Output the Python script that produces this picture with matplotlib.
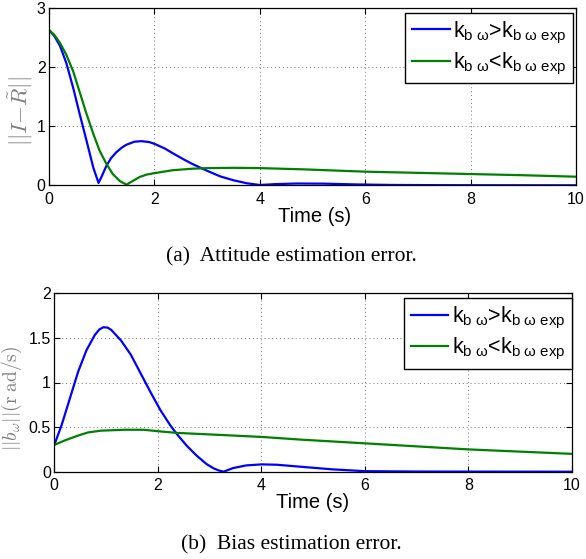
import matplotlib
matplotlib.use("Agg")
import matplotlib.pyplot as plt

plt.rcParams['font.family'] = ['Liberation Sans', 'DejaVu Sans']
plt.rcParams['mathtext.fontset'] = 'custom'
plt.rcParams['mathtext.rm'] = 'Liberation Sans'
plt.rcParams['mathtext.it'] = 'Liberation Sans:italic'

# ---- data: attitude error (top) ----
t_att_fast = [0, 0.1, 0.21, 0.33, 0.46, 0.58, 0.71, 0.84, 0.94, 1.0, 1.09, 1.18,
              1.28, 1.38, 1.47, 1.62, 1.75, 1.9, 2.0, 2.2, 2.35, 2.55, 2.72, 3.0, 3.25,
              3.5, 3.75, 4.0, 4.3, 4.7, 5.2, 5.8, 6.5, 7.5, 8.5, 10]
v_att_fast = [2.62, 2.52, 2.35, 2.06, 1.64, 1.21, 0.76, 0.30, 0.04, 0.15, 0.33, 0.46,
              0.56, 0.635, 0.685, 0.735, 0.745, 0.73, 0.70, 0.62, 0.54, 0.44, 0.36, 0.245,
              0.15, 0.085, 0.035, 0.005, 0.02, 0.03, 0.028, 0.015, 0.006, 0.002, 0.001, 0.0]
t_att_slow = [0, 0.1, 0.21, 0.33, 0.46, 0.58, 0.71, 0.84, 0.96, 1.09, 1.21, 1.34,
              1.47, 1.59, 1.72, 1.85, 2.0, 2.35, 2.72, 3.0, 3.5, 4.0, 4.8, 6, 7, 8, 9, 10]
v_att_slow = [2.62, 2.54, 2.4, 2.2, 1.92, 1.58, 1.21, 0.87, 0.585, 0.36, 0.19, 0.074,
              0.01, 0.074, 0.14, 0.18, 0.205, 0.255, 0.28, 0.29, 0.295, 0.29, 0.27,
              0.23, 0.21, 0.19, 0.17, 0.145]

# ---- data: bias error (bottom) ----
t_bias_fast = [0, 0.14, 0.3, 0.46, 0.62, 0.78, 0.87, 0.95, 1.03, 1.1, 1.29, 1.48, 1.67,
               1.86, 2.05, 2.24, 2.37, 2.56, 2.75, 2.94, 3.07, 3.17, 3.27, 3.45, 3.7,
               4.0, 4.3, 4.75, 5.38, 6, 7, 8, 10]
v_bias_fast = [0.3, 0.52, 0.82, 1.12, 1.36, 1.53, 1.595, 1.62, 1.615, 1.59, 1.47, 1.31,
               1.10, 0.89, 0.69, 0.52, 0.42, 0.29, 0.18, 0.086, 0.04, 0.015, 0.0, 0.04,
               0.07, 0.082, 0.078, 0.056, 0.026, 0.006, 0.002, 0.001, 0.0]
t_bias_slow = [0, 0.2, 0.46, 0.65, 0.9, 1.35, 1.73, 2.0, 2.37, 3.07, 4.0, 4.75, 6, 8, 10]
v_bias_slow = [0.3, 0.35, 0.405, 0.44, 0.46, 0.47, 0.47, 0.454, 0.435, 0.416, 0.39,
               0.36, 0.318, 0.25, 0.20]

labels = [r'k$_{\mathrm{b\ ω}}$>k$_{\mathrm{b\ ω\ exp}}$',
          r'k$_{\mathrm{b\ ω}}$<k$_{\mathrm{b\ ω\ exp}}$']
x_ticks = [0, 2, 4, 6, 8, 10]
y_ticks_top = [0, 1, 2, 3]
y_ticks_bot = [0, 0.5, 1, 1.5, 2]
y_ticklabels_bot = ['0', '0.5', '1', '1.5', '2']

W, H = 586, 559
fig = plt.figure(figsize=(W / 100, H / 100), dpi=100)

def px_axes(l, t, r, b):
    return [l / W, 1 - b / H, (r - l) / W, (b - t) / H]

ax1 = fig.add_axes(px_axes(49, 7.5, 576, 185.3))
ax2 = fig.add_axes(px_axes(54.3, 293.3, 572, 471.7))

blue = (0, 0, 1)
green = (0, 0.5, 0)

ax1.plot(t_att_fast, v_att_fast, color=blue, lw=1.6, label=labels[0])
ax1.plot(t_att_slow, v_att_slow, color=green, lw=1.6, label=labels[1])
ax2.plot(t_bias_fast, v_bias_fast, color=blue, lw=1.6, label=labels[0])
ax2.plot(t_bias_slow, v_bias_slow, color=green, lw=1.6, label=labels[1])

ax1.set_xlim(0, 10)
ax1.set_ylim(0, 3)
ax1.set_yticks(y_ticks_top)
ax2.set_xlim(0, 10)
ax2.set_ylim(0, 2)
ax2.set_yticks(y_ticks_bot)
ax2.set_yticklabels(y_ticklabels_bot)

for ax in (ax1, ax2):
    ax.set_xticks(x_ticks)
    ax.grid(True, linestyle=(0, (1, 3)), color='#777777', linewidth=0.7)
    ax.tick_params(direction='in', top=True, right=True, length=4, width=0.8,
                   labelsize=11.5, colors='black')
    ax.tick_params(axis='x', pad=4.5)
    ax.tick_params(axis='y', pad=2.5)
    for s in ax.spines.values():
        s.set_linewidth(0.9)
        s.set_color('black')
    ax.set_xlabel('Time (s)', fontsize=14.5)

ax1.xaxis.set_label_coords(314.5 / W, 1 - 216 / H, transform=fig.transFigure)
ax2.xaxis.set_label_coords(313 / W, 1 - 502 / H, transform=fig.transFigure)
ax1.xaxis.label.set_va('center')
ax2.xaxis.label.set_va('center')

ax1.set_ylabel(r'$||I{-}\tilde{R}||$', fontsize=16.5, color='#808080', math_fontfamily='cm')
ax2.set_ylabel(r'$||b_\omega||(\mathrm{r\;ad/s})$', fontsize=14, color='#808080',
               math_fontfamily='cm')
ax1.yaxis.set_label_coords(21 / W, 1 - 111 / H, transform=fig.transFigure)
ax2.yaxis.set_label_coords(12 / W, 1 - 398 / H, transform=fig.transFigure)
ax1.yaxis.label.set_va('center')
ax2.yaxis.label.set_va('center')

for ax, anchor in ((ax1, (1 - 3.3 / 527, 1 - 5.5 / 177.8)),
                   (ax2, (1 - 0.5 / 517.7, 1 - 5 / 178.4))):
    leg = ax.legend(loc='upper right', bbox_to_anchor=anchor, borderaxespad=0,
                    fontsize=15.5, fancybox=False, edgecolor='black', framealpha=1,
                    handlelength=1.75, handletextpad=0.15, borderpad=0.3,
                    labelspacing=0.25)
    leg.get_frame().set_linewidth(1.0)

fig.text(291.7 / W, 1 - 256.7 / H, '(a)  Attitude estimation error.',
         family='Liberation Serif', fontsize=15.5, ha='center', va='center')
fig.text(291.7 / W, 1 - 545 / H, '(b)  Bias estimation error.',
         family='Liberation Serif', fontsize=15.5, ha='center', va='center')

fig.savefig('out.png', dpi=100)
